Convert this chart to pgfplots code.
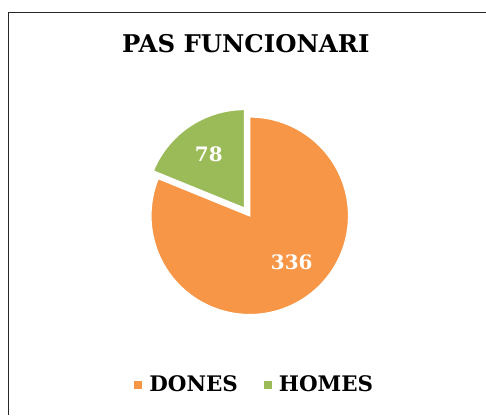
\documentclass[border=0pt]{standalone}
\usepackage{fontspec}
\setmainfont{DejaVu Serif}
\usepackage{pgfplots}
\usepackage{pgfplotstable}
\pgfplotsset{compat=1.18}
\definecolor{dones}{HTML}{F79646}
\definecolor{homes}{HTML}{9BBB59}
\pgfplotstableread{
label value
DONES 336
HOMES 78
}\piedata
\begin{document}%
\begin{tikzpicture}
\pgfplotstablegetelem{0}{value}\of\piedata \edef\vA{\pgfplotsretval}
\pgfplotstablegetelem{1}{value}\of\piedata \edef\vB{\pgfplotsretval}
\pgfmathsetmacro\angA{\vA/(\vA+\vB)*360}
\pgfmathsetmacro\endA{90-\angA}
\pgfmathsetmacro\startB{450-\angA}
\pgfmathsetmacro\midB{90+(360-\angA)/2}
\pgfmathsetmacro\cxB{250+9*cos(\midB)}
\pgfmathsetmacro\cyB{199+9*sin(\midB)}
\begin{axis}[
  scale only axis, width=486bp, height=415bp,
  xmin=0, xmax=486, ymin=0, ymax=415,
  hide axis, clip=false,
  legend columns=2,
  legend style={at={(axis cs:255,30)}, anchor=center, draw=none, fill=none,
    font=\bfseries\fontsize{21.5}{24}\selectfont,
    /tikz/every even column/.append style={column sep=24bp}},
  legend image code/.code={\fill[#1,draw=none] (0bp,-4bp) rectangle (8bp,4bp);
    \path[draw=none,fill=none] (0bp,0bp) -- (13bp,0bp);},
]
\addplot[fill=dones, draw=white, line width=1.5bp, domain=90:\endA, samples=150]
  ({250+99*cos(x)},{199+99*sin(x)}) -- (axis cs:250,199) -- cycle;
\addplot[fill=homes, draw=white, line width=1.5bp, domain=\startB:90, samples=60]
  ({\cxB+99*cos(x)},{\cyB+99*sin(x)}) -- (axis cs:\cxB,\cyB) -- cycle;
\legend{DONES,HOMES}
\draw[line width=1bp, color=black!85] (axis cs:8.5,0) -- (axis cs:8.5,402.7) -- (axis cs:486,402.7);
\node[anchor=base, font=\bfseries\fontsize{24.5}{28}\selectfont] at (axis cs:246,362) {PAS FUNCIONARI};
\node[anchor=base, text=white, font=\bfseries\fontsize{20}{24}\selectfont] at (axis cs:209,253.3) {\vB};
\node[anchor=base, text=white, font=\bfseries\fontsize{20}{24}\selectfont] at (axis cs:292,145.7) {\vA};
\path (axis cs:0,0) rectangle (axis cs:486,415);
\end{axis}
\end{tikzpicture}%
\end{document}
